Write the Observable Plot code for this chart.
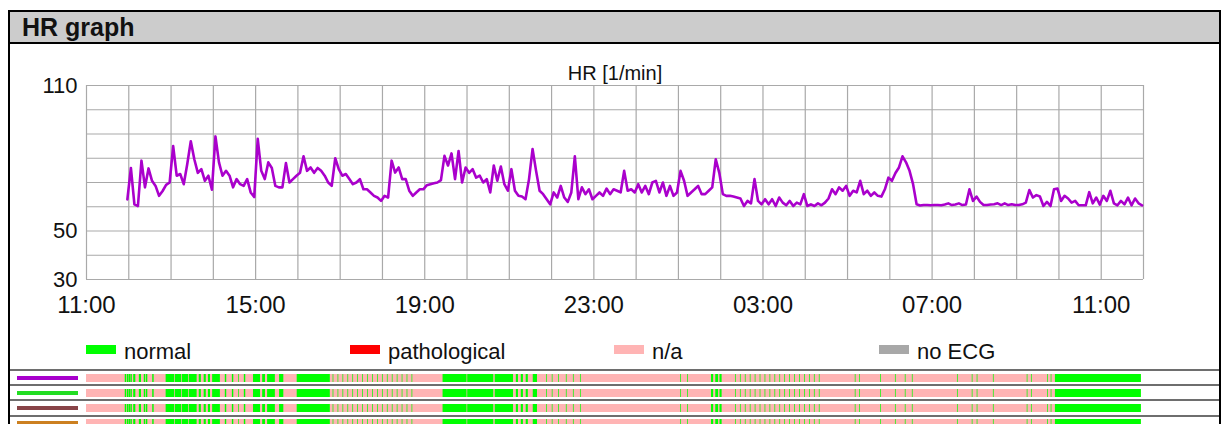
<!DOCTYPE html>
<html><head><meta charset="utf-8">
<script src="https://cdn.jsdelivr.net/npm/d3@7"></script>
<script src="https://cdn.jsdelivr.net/npm/@observablehq/plot@0.6"></script>
<style>
body{margin:0;background:#fff;font-family:"Liberation Sans",Arial,sans-serif;}
#page{position:relative;width:1223px;height:424px;overflow:hidden;background:#fff;}
.abs{position:absolute;}
#frame{left:8px;top:10px;width:1213px;height:440px;border:2.5px solid #000;box-sizing:border-box;}
#titlebar{left:10px;top:12px;width:1209px;height:30px;background:#cccccc;border-bottom:2px solid #000;}
#title{left:22px;top:13px;font-weight:bold;font-size:25px;color:#111;}
.sw{height:9px;width:30px;}
.lg{font-size:22px;color:#111;}
.sep{left:10px;width:1209px;height:2px;background:#6e6e6e;}
.lead{left:17px;width:61px;height:4px;}
svg{position:absolute;}
</style>
</head><body>
<div id="page"></div>
<script>
// ---------- data ----------
const chartTitle = "HR graph";
const seriesTitle = "HR [1/min]";
const hrStartMinute = 58;   // minutes after 11:00 of the first sample
const hrStepMinutes = 5;
const hrValues = [
63,76,61,60.3,79,68,75.8,70.7,68.6,64.5,
66.5,69,70,85,72.8,73.5,69.3,77.6,87,79.6,
74,75.5,70.7,72.8,67,89,78.3,72.8,74.8,72.8,
68,71.4,69.3,68.6,71.4,65.9,64,88,74.8,71.4,
78.3,76,68.6,68,68,78,70,71.4,72.8,74,
80.8,74.8,76.2,74,76,74.8,72.8,70,68.6,80,
75.5,72.8,73.5,71.4,69.3,70,71.4,67.2,67.2,65.9,
64.5,63.8,62.4,64.5,63.8,79,74.1,76.2,71.4,71.4,
66.6,64.5,65.9,67.2,67.2,68.9,69.3,69.7,70,71,
81,77,82,71.4,83,70,76.2,74,75.5,72,
72.8,70,71.4,65.9,77,70.7,76.6,69.3,66.6,75.5,
66.6,64.5,64.2,63.1,71.4,83.8,74.8,66.6,65.2,63.1,
61,65.9,63.8,68.6,63.8,62,65.9,80.8,63.1,68,
65.2,67.2,63.1,64.5,65.9,64.5,67.5,65.2,67.2,66.6,
65.9,74.8,66.6,67.2,65.9,69.3,65.9,68.6,65.2,70,
70.7,65.9,70,64.5,68.6,64.5,65.9,74.8,70.7,64.5,
65.9,67.2,68.6,65.2,65.2,66.6,68,79.6,74,65.2,
64.5,64.5,64.2,63.8,63.4,60.3,62.4,61.4,71.4,62.4,
61,63.1,61,63.1,60.3,63.8,61.7,60.6,62.4,60.3,
61.7,61,65.2,60.3,61,60.3,61.4,60.6,61.7,63.4,
67.2,65.2,68,66.6,68.6,64.5,66.6,65.9,70.7,65.2,
66.6,64.5,65.9,64.5,64.2,67.2,72,70.7,73.9,76.2,
80.8,78.3,74.8,69.3,61,60.5,60.7,60.7,60.6,60.7,
60.7,60.6,60.9,61.4,60.7,60.9,61.4,60.7,60.9,67.2,
62.4,64.2,62,60.7,60.7,60.9,61,61.4,60.7,61.4,
60.7,61,60.7,60.7,61,61.7,66.9,63.8,64.8,64.2,
60.3,62,60.3,67.2,67.5,62.4,64.5,63.4,61.7,62.4,
60.6,60.6,60.6,66,61.4,63.8,60.9,64.5,62.4,66.6,
61.4,60.6,62.4,61,63.8,60.6,63.4,61.4,60.6
];
const yTickValues = [30, 50, 110];
const yGridValues = [30, 40, 50, 60, 70, 80, 90, 100, 110];
const xTickLabels = ["11:00","15:00","19:00","23:00","03:00","07:00","11:00"];
const xSpanHours = 25;
const legendLabels = ["normal","pathological","n/a","no ECG"];
const legendColors = ["#00ff00","#ff0000","#ffb4b4","#a8a8a8"];
const leadNames = ["lead 1","lead 2","lead 3","lead 4"];
const leadColors = ["#a800cc","#22dd22","#884448","#cc8020"];
const stripEndMinute = 1497;
// minutes after 11:00 classified "normal" (rest n/a)
const normalIntervals = [
[55,57],[58,60],[60.5,62.5],[63,65],[67,70],[75,78],[82,84],[85,87],[94,96],
[113,125],[126,135],[136,145],[146,157],
[160,163],[167,170],[173,176],[179,190],[197,199],[207,209],[216,217],[224,226],
[237,247],[250,254],[257,268],[274,280],
[299,346],
[350,351],[357,358],[364,365],[371,372],[378,379],[385,386],[392,393],[399,400],[406,407],[413,414],[420,421],[427,428],[434,435],[441,442],[448,449],[455,456],[462,463],
[506,540],[541,578],[580,606],[610,613],[617,620],[624,627],[634,640],[653,654],[661,662],[670,671],[681,682],[691,692],[701,702],
[843,844],[853,854],[887,890],[893,897],[899,902],
[921,922],[928,929],[935,936],[942,943],[949,950],[956,957],[963,964],[970,971],[977,978],[984,985],[991,992],[998,999],[1005,1006],[1012,1013],[1019,1020],[1026,1027],[1033,1034],[1040,1041],
[1091,1092],[1097,1098],[1127,1128],[1148,1149],[1162,1163],[1172,1173],[1236,1237],[1257,1258],[1264,1265],[1287,1288],[1335,1336],[1341,1342],[1364,1365],[1369,1370],[1375,1497]
];

// ---------- build ----------
const page = document.getElementById("page");
const t0 = Date.UTC(2024,0,1,11,0);
const toDate = m => new Date(t0 + m*60000);
const xDomain = [toDate(0), toDate(xSpanHours*60)];
const xTicks = xTickLabels.map((_, i) => toDate(i*240));
const labelOf = new Map(xTicks.map((d,i) => [+d, xTickLabels[i]]));
const hourGrid = d3.range(0, xSpanHours*60+1, 60).map(toDate);
const hr = hrValues.map((v,i) => ({t: toDate(hrStartMinute + i*hrStepMinutes), v}));

function add(html){ page.insertAdjacentHTML("beforeend", html); }
add(`<div class="abs" id="titlebar"></div>`);
add(`<div class="abs" id="title">${chartTitle}</div>`);

const chart = Plot.plot({
  width: 1223, height: 330,
  marginLeft: 86, marginRight: 80, marginTop: 85, marginBottom: 51,
  x: {type: "utc", domain: xDomain},
  y: {domain: [30, 110]},
  style: {fontFamily: "Liberation Sans, Arial, sans-serif", background: "transparent", color: "#111"},
  marks: [
    Plot.gridY(yGridValues, {stroke: "#a9a9a9", strokeOpacity: 1, strokeWidth: 1.2}),
    Plot.gridX(hourGrid, {stroke: "#a9a9a9", strokeOpacity: 1, strokeWidth: 1.2}),
    Plot.axisY(yTickValues, {tickSize: 0, tickPadding: 9, fontSize: 22, label: null}),
    Plot.axisX(xTicks, {tickSize: 0, tickPadding: 16, fontSize: 24, label: null, tickFormat: d => labelOf.get(+d)}),
    Plot.lineY(hr, {x: "t", y: "v", stroke: "#aa00cc", strokeWidth: 2.6, strokeLinejoin: "round"}),
    Plot.text([seriesTitle], {frameAnchor: "top", dy: -6, lineAnchor: "bottom", fontSize: 20})
  ]
});
chart.style.left = "0px"; chart.style.top = "0px";
page.appendChild(chart);

// legend
const legendX = [86, 350, 614, 879];
legendLabels.forEach((l, i) => {
  add(`<div class="abs sw" style="left:${legendX[i]}px;top:345px;background:${legendColors[i]}"></div>`);
  add(`<div class="abs lg" style="left:${legendX[i]+38}px;top:339px">${l}</div>`);
});

// strips
const stripRows = [];
leadNames.forEach(lead => {
  stripRows.push({lead, x1: toDate(0), x2: toDate(stripEndMinute), status: "n/a"});
  normalIntervals.forEach(([a,b]) => stripRows.push({lead, x1: toDate(a), x2: toDate(b), status: "normal"}));
});
const strips = Plot.plot({
  width: 1223, height: 61,
  marginLeft: 86, marginRight: 80, marginTop: 0, marginBottom: 0,
  x: {type: "utc", domain: xDomain, axis: null},
  y: {domain: leadNames, axis: null, paddingInner: 0.45, paddingOuter: 0.225},
  color: {domain: legendLabels, range: legendColors},
  style: {background: "transparent"},
  marks: [Plot.barX(stripRows, {x1: "x1", x2: "x2", y: "lead", fill: "status"})]
});
strips.style.left = "0px"; strips.style.top = "370px";
page.appendChild(strips);

const sepY = [368.5, 383.5, 399, 414.5];
sepY.forEach(y => add(`<div class="abs sep" style="top:${y}px"></div>`));
leadColors.forEach((c, i) => add(`<div class="abs lead" style="top:${375.5 + i*15.2}px;background:${c}"></div>`));
add(`<div class="abs" id="frame"></div>`);
</script>
</body></html>
